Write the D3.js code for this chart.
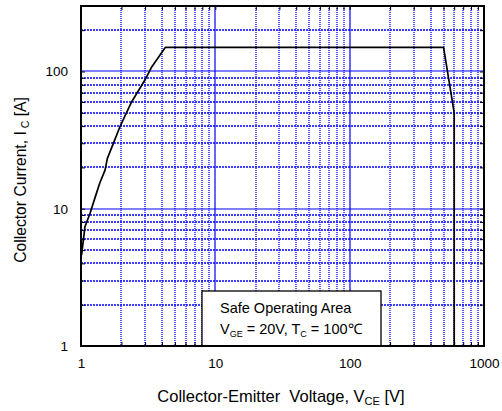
<!DOCTYPE html>
<html><head><meta charset="utf-8">
<script src="https://cdn.jsdelivr.net/npm/d3@7"></script>
<style>body{margin:0;background:#fff}svg{display:block;font-family:"Liberation Sans",Arial,sans-serif}text{white-space:pre}</style>
</head><body><svg id="c" width="502" height="411"></svg>
<script>
const soaV = [1.01, 1.07, 1.17, 1.27, 1.38, 1.51, 1.57, 1.95, 2.38, 2.99, 3.36, 4.25, 500, 600, 600];
const soaI = [4.6, 7.4, 9.3, 12, 15.4, 19.1, 23.2, 39.6, 60, 86.6, 108, 150, 150, 50, 1];
const xTickLabels = [1, 10, 100, 1000];
const yTickLabels = [1, 10, 100];
const xDomain = [1, 1000];
const yDomain = [1, 300];

const svg = d3.select("#c");
const L = 81, R = 484, T = 6, B = 346;
const x = d3.scaleLog().domain(xDomain).range([L, R]);
const y = d3.scaleLog().domain(yDomain).range([B, T]);

const minorX = [], minorY = [];
for (let d = 1; d <= 100; d *= 10) for (let k = 2; k <= 9; k++) minorX.push(d * k);
for (let d = 1; d <= 100; d *= 10) for (let k = 2; k <= 9; k++) if (d * k < 300) minorY.push(d * k);
const majorX = [10, 100], majorY = [10, 100];
const rx = d => Math.round(x(d)), ry = d => Math.round(y(d));

const g = svg.append("g");
g.selectAll(".mx").data(minorX).join("line")
  .attr("x1", rx).attr("x2", rx)
  .attr("y1", T).attr("y2", B).attr("stroke", "#0000ff").attr("stroke-width", 1.3)
  .attr("stroke-dasharray", "1,1");
g.selectAll(".my").data(minorY).join("line")
  .attr("y1", ry).attr("y2", ry)
  .attr("x1", L).attr("x2", R).attr("stroke", "#0000ff").attr("stroke-width", 1.3)
  .attr("stroke-dasharray", "2,1");
g.selectAll(".Mx").data(majorX).join("line")
  .attr("x1", rx).attr("x2", rx)
  .attr("y1", T).attr("y2", B).attr("stroke", "#0000ff").attr("stroke-width", 1.2);
g.selectAll(".My").data(majorY).join("line")
  .attr("y1", ry).attr("y2", ry)
  .attr("x1", L).attr("x2", R).attr("stroke", "#0000ff").attr("stroke-width", 1.2);

// inner ticks
const allX = minorX.concat(majorX), allY = minorY.concat(majorY);
function tickAxis(axis, tx, ty) {
  const a = svg.append("g").attr("transform", `translate(${tx},${ty})`).call(axis);
  a.select(".domain").remove();
  a.selectAll("line").attr("stroke", "#000").attr("stroke-width", 1);
  a.selectAll("text").remove();
}
tickAxis(d3.axisBottom(x).tickValues(allX).tickSize(-4).tickFormat(""), 0, B);
tickAxis(d3.axisTop(x).tickValues(allX).tickSize(-4).tickFormat(""), 0, T);
tickAxis(d3.axisLeft(y).tickValues(allY).tickSize(-4).tickFormat(""), L, 0);
tickAxis(d3.axisRight(y).tickValues(allY).tickSize(-4).tickFormat(""), R, 0);

// SOA curve
const pts = soaV.map((v, i) => [v, soaI[i]]);
svg.append("path").datum(pts)
  .attr("d", d3.line().x(d => x(d[0])).y(d => y(d[1])))
  .attr("fill", "none").attr("stroke", "#000").attr("stroke-width", 1.7).attr("stroke-linejoin", "round");

// frame
svg.append("rect").attr("x", L).attr("y", T).attr("width", R - L).attr("height", B - T)
  .attr("fill", "none").attr("stroke", "#000").attr("stroke-width", 2);

// annotation box
const bx = 202, by = 291, bw = 179, bh = B - 291;
svg.append("rect").attr("x", bx).attr("y", by).attr("width", bw).attr("height", bh)
  .attr("fill", "#fff").attr("stroke", "#000").attr("stroke-width", 1.3);
svg.append("line").attr("x1", L).attr("x2", R).attr("y1", B).attr("y2", B).attr("stroke", "#000").attr("stroke-width", 2);
svg.append("text").attr("x", 220).attr("y", 313).attr("font-size", 14.5).text("Safe Operating Area");
const t2 = svg.append("text").attr("x", 220).attr("y", 334).attr("font-size", 14.5);
t2.append("tspan").text("V");
t2.append("tspan").attr("font-size", 9).attr("dy", 3).text("GE");
t2.append("tspan").attr("dy", -3).text(" = 20V, T");
t2.append("tspan").attr("font-size", 9).attr("dy", 3).text("C");
t2.append("tspan").attr("dy", -3).text(" = 100\u2103");

// tick labels
const xl = svg.append("g").attr("transform", `translate(0,${B})`)
  .call(d3.axisBottom(x).tickValues(xTickLabels).tickSize(0).tickPadding(12).tickFormat(d3.format("d")));
xl.select(".domain").remove();
xl.selectAll("text").attr("font-size", 13.5).attr("font-family", "Liberation Sans, Arial").attr("fill", "#000");
const yl = svg.append("g").attr("transform", `translate(${L},0)`)
  .call(d3.axisLeft(y).tickValues(yTickLabels).tickSize(0).tickPadding(13).tickFormat(d3.format("d")));
yl.select(".domain").remove();
yl.selectAll("text").attr("font-size", 13.5).attr("font-family", "Liberation Sans, Arial").attr("fill", "#000");

// axis titles
const xt = svg.append("text").attr("x", 281).attr("y", 402).attr("text-anchor", "middle").attr("font-size", 16.5);
xt.append("tspan").text("Collector-Emitter  Voltage, V");
xt.append("tspan").attr("font-size", 11).attr("dy", 3).text("CE");
xt.append("tspan").attr("dy", -3).text(" [V]");

const yt = svg.append("text").attr("transform", "translate(26,180) rotate(-90)").attr("text-anchor", "middle").attr("font-size", 15.7);
yt.append("tspan").text("Collector Current, I");
yt.append("tspan").attr("font-size", 10.5).attr("dy", 3).text(" C");
yt.append("tspan").attr("dy", -3).text(" [A]");
</script></body></html>
